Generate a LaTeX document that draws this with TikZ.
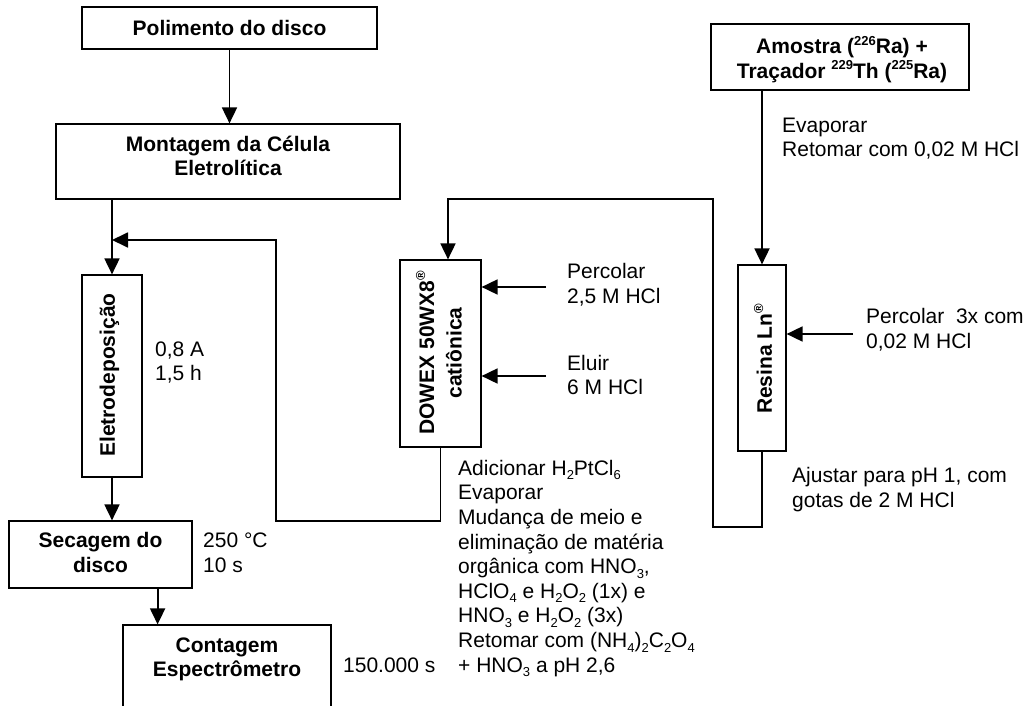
\documentclass[tikz,border=0pt]{standalone}
\usepackage{fontspec}
\setmainfont{Liberation Sans}
\usetikzlibrary{arrows.meta,calc}
\newcommand\supx[1]{\raisebox{0.42em}{\fontsize{13}{13}\selectfont #1}}
\newcommand\subx[1]{\raisebox{-0.22em}{\fontsize{13}{13}\selectfont #1}}
\begin{document}
\begin{tikzpicture}[x=1pt,y=-1pt,
 txt/.style={font=\fontsize{21}{24.6}\selectfont, inner sep=0pt, align=left, anchor=west},
 btxt/.style={font=\fontsize{21}{24.6}\selectfont\bfseries, inner sep=0pt, align=center},
 box/.style={draw, line width=1.2pt, inner sep=0pt},
 arr/.style={line width=1.8pt, -{Triangle[length=16pt,width=15pt]}}]
\useasboundingbox (0,0) rectangle (1028,706);
\fill[white] (0,0) rectangle (1028,706);
\clip (0,0) rectangle (1028,706);

% boxes
\node[box, minimum width=295, minimum height=42] (pol) at (229.5,28) {};
\node[btxt] at (229.5,28) {Polimento do disco};
\node[box, minimum width=344, minimum height=75] (mont) at (228,161.5) {};
\node[btxt] at (228,156) {Montagem da Célula\\Eletrolítica};
\node[box, minimum width=60, minimum height=202] (eletro) at (112,376) {};
\node[btxt, rotate=90] at (109.5,375) {Eletrodeposição};
\node[box, minimum width=183, minimum height=67] (sec) at (100.5,554.5) {};
\node[btxt] at (100.5,552.5) {Secagem do\\disco};
\node[box, minimum width=208, minimum height=105] (cont) at (227,677.5) {};
\node[btxt] at (227,659.5) {Contagem\\Espectrômetro};
\node[box, minimum width=81, minimum height=187] (dow) at (440.5,353.5) {};
\node[btxt, rotate=90] at (439,353) {DOWEX 50WX8\supx{®}\\[3pt]catiônica};
\node[box, minimum width=48, minimum height=186] (res) at (762,358) {};
\node[btxt, rotate=90] at (763,359) {Resina Ln\supx{®}};
\node[box, minimum width=258, minimum height=66] (amo) at (840,57) {};
\node[btxt] at (842,59.5) {Amostra (\supx{226}Ra) +\\Traçador \supx{229}Th (\supx{225}Ra)};

% plain texts
\node[txt] (t08) at (155,362.5) {0,8 A\\1,5 h};
\node[txt] (t250) at (203,552.5) {250 °C\\10 s};
\node[txt] (t150) at (343,665) {150.000 s};
\node[txt] (tevap) at (782,138.5) {Evaporar\\Retomar com 0,02 M HCl};
\node[txt] (tperc2) at (866,329.5) {Percolar\ \ 3x com\\0,02 M HCl};
\node[txt] (tajus) at (792,489.5) {Ajustar para pH 1, com\\gotas de 2 M HCl};
\node[txt] (tperc1) at (567,285) {Percolar\\2,5 M HCl};
\node[txt] (telu) at (567,375) {Eluir\\6 M HCl};
\node[txt] (tadd) at (458,568.5) {Adicionar H\subx{2}PtCl\subx{6}\\
Evaporar\\
Mudança de meio e\\
eliminação de matéria\\
orgânica com HNO\subx{3},\\
HClO\subx{4} e H\subx{2}O\subx{2} (1x) e\\
HNO\subx{3} e H\subx{2}O\subx{2} (3x)\\
Retomar com (NH\subx{4})\subx{2}C\subx{2}O\subx{4}\\
+ HNO\subx{3} a pH 2,6};

% connectors
\draw[arr] (pol.south) -- (pol.south |- mont.north);
\draw[arr] (eletro.north |- mont.south) -- (eletro.north);
\draw[arr] (eletro.south) -- (eletro.south |- sec.north);
\coordinate (s1) at ([xshift=-35pt]sec.south east);
\draw[arr] (s1) -- (s1 |- cont.north);

\coordinate (r1) at (276,521);
\coordinate (r2) at (276,240);
\draw[arr] (dow.south) |- (r1) -- (r2) -- (eletro.north |- r2);

\coordinate (f1) at (713,527);
\coordinate (f2) at (713,199);
\coordinate (dtop) at ([xshift=7.5pt]dow.north);
\draw[arr] (res.south) |- (f1) -- (f2) -| (dtop);
\draw[arr] (res.north |- amo.south) -- (res.north);

\coordinate (p1) at (546,287);
\coordinate (p2) at (546,376);
\coordinate (p3) at (853,334);
\draw[arr] (p1) -- (p1 -| dow.east);
\draw[arr] (p2) -- (p2 -| dow.east);
\draw[arr] (p3) -- (p3 -| res.east);
\end{tikzpicture}
\end{document}
